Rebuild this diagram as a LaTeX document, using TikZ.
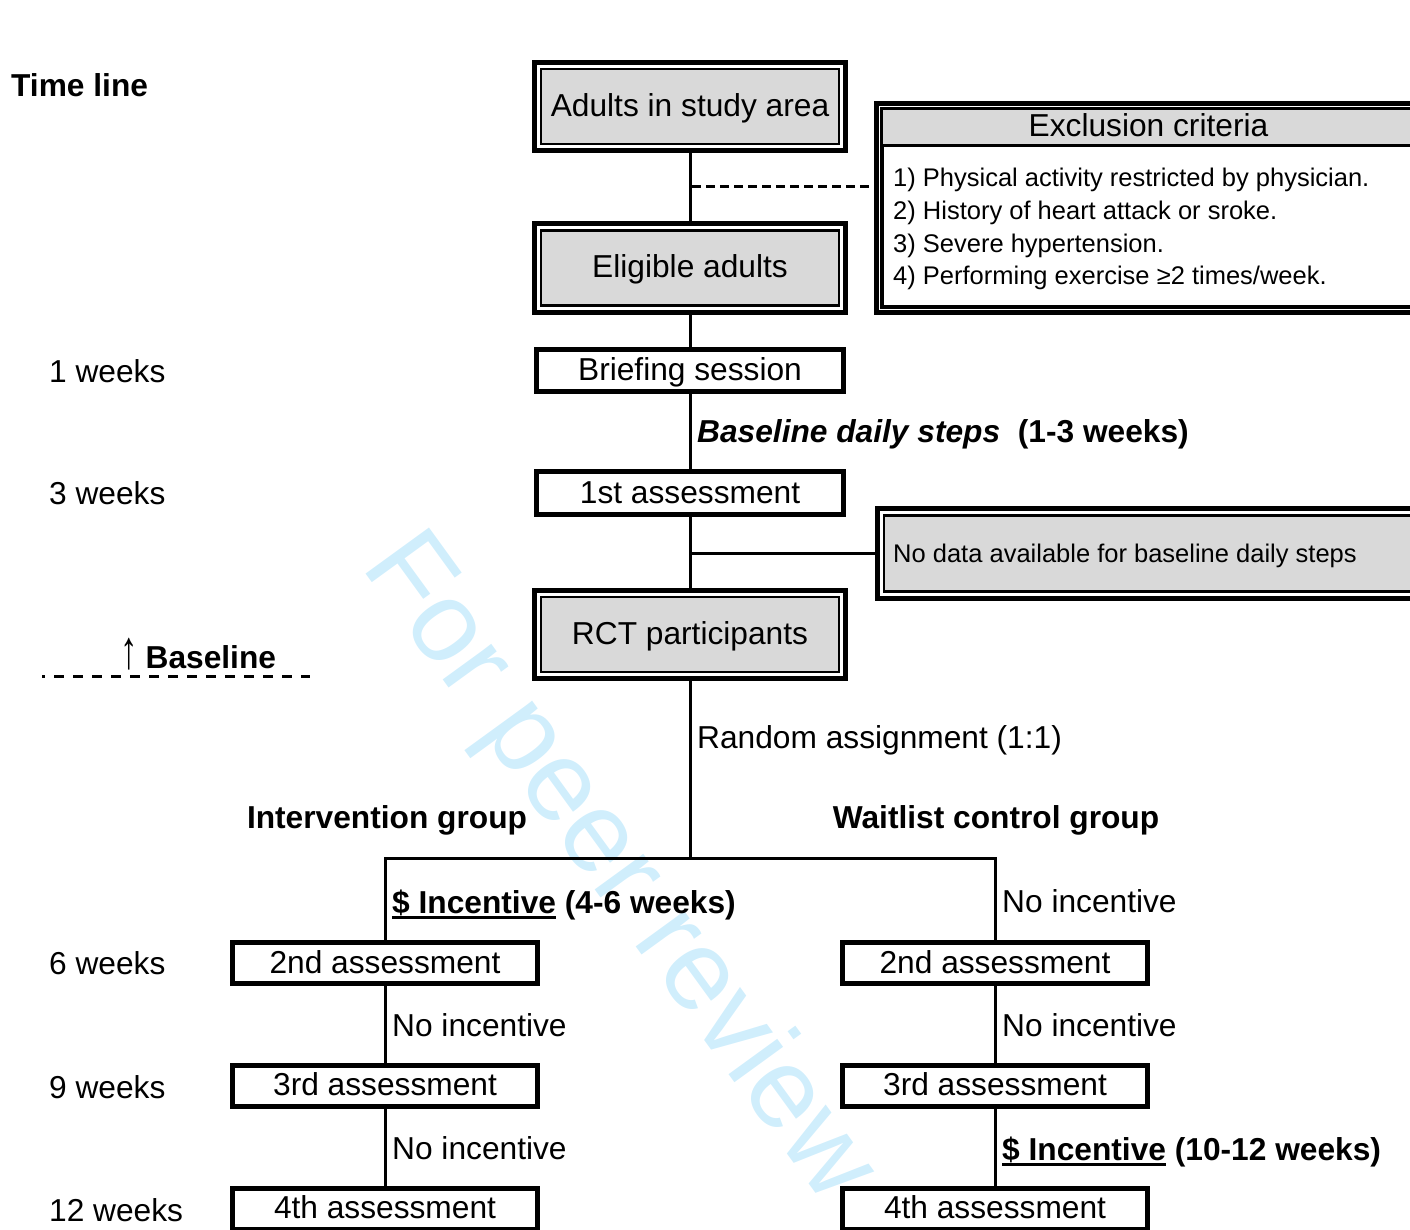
\documentclass[tikz,border=0pt]{standalone}
\usepackage{fontspec}
\setmainfont{Liberation Sans}
\usetikzlibrary{calc}
\pgfdeclarelayer{background}
\pgfsetlayers{background,main}
\definecolor{boxgray}{RGB}{217,217,217}
\definecolor{wmblue}{RGB}{208,238,252}
\newcommand\ulx[1]{\setbox0\hbox{#1}\rlap{\rule[-6pt]{\wd0}{2.6pt}}\box0\relax}
\newcommand\outerbox[1]{\draw[line width=5pt, fill=white] ($(#1.north west)+(-5.5,-5.5)$) rectangle ($(#1.south east)+(5.5,5.5)$);}
\begin{document}
\begin{tikzpicture}[x=1pt,y=-1pt,
  every node/.style={font=\fontsize{31.7}{36}\selectfont, inner sep=0pt},
  lbl/.style={anchor=base west},
  clbl/.style={anchor=base},
  small/.style={font=\fontsize{25.5}{30}\selectfont, anchor=base west},
  dbox/.style={draw, line width=2.7pt, fill=boxgray, minimum width=298pt, minimum height=75pt, text height=25pt, text depth=5pt},
  sbox/.style={draw, line width=5pt, fill=white, minimum width=306pt, minimum height=42pt, text height=25pt, text depth=5pt},
  conn/.style={line width=3pt},
  wm/.style={font=\fontsize{114}{124}\selectfont, text=wmblue, anchor=base west, rotate=-54}
]
\useasboundingbox (0,0) rectangle (1410,1230);
\clip (0,0) rectangle (1410,1230);

% main column
\node[dbox] (adults) at (690,106.5) {Adults in study area};
\node[dbox] (elig) at (690,268) {Eligible adults};
\node[sbox, minimum width=307pt] (brief) at (690,370.5) {Briefing session};
\node[sbox, minimum width=307pt, minimum height=43pt] (a1) at (690,493) {1st assessment};
\node[dbox] (rct) at (690,634.5) {RCT participants};

% exclusion box
\node[draw, line width=2.7pt, fill=white, minimum width=531pt, minimum height=196pt] (excl) at (1148.5,208) {};
\fill[boxgray] ($(excl.north west)+(1.35,1.35)$) rectangle ($(excl.north east)+(-1.35,37)$);
\draw[line width=2.5pt] ($(excl.north west)+(0,37)$) -- ($(excl.north east)+(0,37)$);
\draw[line width=2.7pt] (excl.north west) rectangle (excl.south east);
\node[clbl] (excltitle) at (1148.5,137) {Exclusion criteria};
\node[small] (ex1) at (893,187) {1) Physical activity restricted by physician.};
\node[small] (ex2) at (893,220) {2) History of heart attack or sroke.};
\node[small] (ex3) at (893,253) {3) Severe hypertension.};
\node[small] (ex4) at (893,285) {4) Performing exercise ≥2 times/week.};

% no data box
\node[draw, line width=2.7pt, fill=boxgray, minimum width=530pt, minimum height=76pt] (nodata) at (1149,553.5) {};
\node[small] (nodatatxt) at (893,562) {No data available for baseline daily steps};

% branch boxes
\node[sbox, minimum width=305pt, minimum height=41pt] (L2) at (385,963) {2nd assessment};
\node[sbox, minimum width=305pt, minimum height=41pt] (L3) at (385,1085.5) {3rd assessment};
\node[sbox, minimum width=305pt, minimum height=41pt] (L4) at (385,1208.5) {4th assessment};
\node[sbox, minimum width=305pt, minimum height=41pt] (R2) at (995,963) {2nd assessment};
\node[sbox, minimum width=305pt, minimum height=41pt] (R3) at (995,1085.5) {3rd assessment};
\node[sbox, minimum width=305pt, minimum height=41pt] (R4) at (995,1208.5) {4th assessment};

% timeline labels
\node[lbl, font=\fontsize{31.7}{36}\selectfont\bfseries] (timeline) at (11,97) {Time line};
\node[lbl] (w1) at (49,382) {1 weeks};
\node[lbl] (w3) at (49,504) {3 weeks};
\node[lbl] (w6) at (49,974) {6 weeks};
\node[lbl] (w9) at (49,1098) {9 weeks};
\node[lbl] (w12) at (49,1221) {12 weeks};
\node[lbl, font=\fontsize{31.7}{36}\selectfont\bfseries] (baselbl) at (120,668) {\scalebox{1.1}[1.7]{↑}\hspace{8pt}Baseline};
\coordinate (bl1) at (42,676);
\coordinate (bl2) at (310,676);

% flow labels
\node[lbl, font=\fontsize{31.7}{36}\selectfont\bfseries] (bds) at (697,442) {\textit{Baseline daily steps}\ \ (1-3 weeks)};
\node[lbl] (rand) at (697,748) {Random assignment (1:1)};
\node[clbl, font=\fontsize{31.7}{36}\selectfont\bfseries] (intg) at (387,828) {Intervention group};
\node[clbl, font=\fontsize{31.7}{36}\selectfont\bfseries] (wlg) at (996,828) {Waitlist control group};
\node[lbl, font=\fontsize{31.7}{36}\selectfont\bfseries] (inc1) at (392,913) {\ulx{\$ Incentive} (4-6 weeks)};
\node[lbl] (noR1) at (1002,912) {No incentive};
\node[lbl] (noL2) at (392,1036) {No incentive};
\node[lbl] (noR2) at (1002,1036) {No incentive};
\node[lbl] (noL3) at (392,1159) {No incentive};
\node[lbl, font=\fontsize{31.7}{36}\selectfont\bfseries] (inc2) at (1002,1160) {\ulx{\$ Incentive} (10-12 weeks)};

\coordinate (split) at (690,858);
\coordinate (d1) at (692,187);
\coordinate (d2) at (690,553.5);

\begin{pgfonlayer}{background}
  \node[wm] (wmark) at (360,566) {For peer review};
  \draw[conn] (adults.south) -- (elig.north);
  \draw[conn] (elig.south) -- (brief.north);
  \draw[conn] (brief.south) -- (a1.north);
  \draw[conn] (a1.south) -- (rct.north);
  \draw[conn] (rct.south) -- (split);
  \draw[conn, line join=miter] (L2.north) -- (L2.north |- split) -- (R2.north |- split) -- (R2.north);
  \draw[conn] (L2.south) -- (L3.north);
  \draw[conn] (L3.south) -- (L4.north);
  \draw[conn] (R2.south) -- (R3.north);
  \draw[conn] (R3.south) -- (R4.north);
  \draw[conn, dash pattern=on 9pt off 5pt] (d1) -- (d1 -| excl.west);
  \draw[conn] (d2) -- (d2 -| nodata.west);
  \draw[line width=3pt, dash pattern=on 10pt off 9pt, dash phase=7pt] (bl1) -- (bl2);
  \outerbox{adults}
  \outerbox{elig}
  \outerbox{rct}
  \outerbox{excl}
  \outerbox{nodata}
\end{pgfonlayer}
\end{tikzpicture}
\end{document}
